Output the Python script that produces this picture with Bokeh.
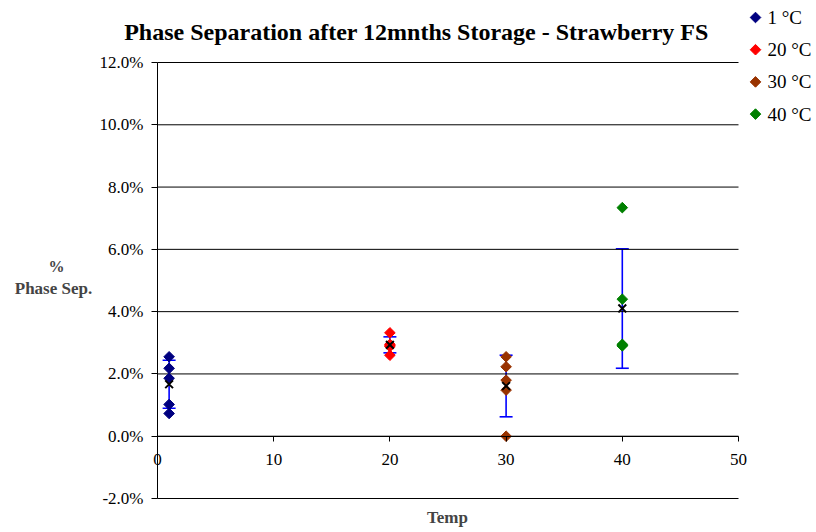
import numpy as np
from bokeh.plotting import figure
from bokeh.models import (ColumnDataSource, Range1d, LinearAxis, FixedTicker,
                          PrintfTickFormatter, Whisker, TeeHead, Label)
from bokeh.embed import file_html
from bokeh.resources import INLINE

# ---- data ----
series_names = ["1 °C", "20 °C", "30 °C", "40 °C"]
series_temp = [1, 20, 30, 40]
sep_1C = [2.55, 2.18, 1.86, 1.02, 0.73]
sep_20C = [3.32, 2.95, 2.92, 2.88, 2.60]
sep_30C = [2.55, 2.23, 1.80, 1.48, 0.00]
sep_40C = [7.34, 4.40, 2.95, 2.92, 2.90]
series_values = [sep_1C, sep_20C, sep_30C, sep_40C]
series_colors = ["#000080", "#FF0000", "#993300", "#008000"]
y_ticks = [-2, 0, 2, 4, 6, 8, 10, 12]
x_ticks = [0, 10, 20, 30, 40, 50]

SERIF = "Liberation Serif"
W, H = 816, 532
# plot area in pixels (left, right, top, bottom)
PL, PR, PT, PB = 157, 738, 62, 498
XMIN, XMAX = x_ticks[0], x_ticks[-1]
YMIN, YMAX = y_ticks[0], y_ticks[-1]
kx = (PR - PL) / (XMAX - XMIN)
ky = (PB - PT) / (YMAX - YMIN)
x_range = Range1d(XMIN - PL / kx, XMAX + (W - PR) / kx)
y_range = Range1d(YMIN - (H - PB) / ky, YMAX + PT / ky)


def dx(px):
    return XMIN + (px - PL) / kx


def dy(py):
    return YMAX - (py - PT) / ky


p = figure(width=W, height=H, output_backend="svg", toolbar_location=None,
           x_range=x_range, y_range=y_range,
           x_axis_location=None, y_axis_location=None,
           min_border=0)
p.outline_line_color = None
p.background_fill_color = "white"
p.border_fill_color = "white"
p.xgrid.visible = False
p.ygrid.visible = False

# horizontal gridlines over the plot area
p.segment(x0=[XMIN] * len(y_ticks), x1=[XMAX] * len(y_ticks), y0=y_ticks, y1=y_ticks,
          line_color="black", line_width=1)

# y axis at x=0
yax = LinearAxis(ticker=FixedTicker(ticks=y_ticks), formatter=PrintfTickFormatter(format="%.1f%%"),
                 fixed_location=XMIN, bounds=(YMIN, YMAX))
yax.axis_line_color = "black"
yax.major_tick_line_color = "black"
yax.major_tick_out = 6
yax.major_tick_in = 0
yax.minor_tick_line_color = None
yax.major_label_standoff = 8
yax.major_label_text_font = SERIF
yax.major_label_text_font_size = "17px"
yax.major_label_text_color = "black"
p.add_layout(yax, "left")

# x axis crossing at y=0
xax = LinearAxis(ticker=FixedTicker(ticks=x_ticks), fixed_location=0, bounds=(XMIN, XMAX))
xax.axis_line_color = "black"
xax.major_tick_line_color = "black"
xax.major_tick_out = 5
xax.major_tick_in = 0
xax.minor_tick_line_color = None
xax.major_label_standoff = 13
xax.major_label_text_font = SERIF
xax.major_label_text_font_size = "17px"
xax.major_label_text_color = "black"
p.add_layout(xax, "below")

# error bars (mean +/- SD) and means
means = [float(np.mean(v)) for v in series_values]
sds = [float(np.std(v, ddof=1)) for v in series_values]
err_src = ColumnDataSource(dict(x=series_temp,
                                upper=[m + s for m, s in zip(means, sds)],
                                lower=[m - s for m, s in zip(means, sds)],
                                mean=means))
wh = Whisker(source=err_src, base="x", upper="upper", lower="lower", dimension="height",
             line_color="#0000FF", line_width=1.6,
             upper_head=TeeHead(size=13, line_color="#0000FF", line_width=1.6),
             lower_head=TeeHead(size=13, line_color="#0000FF", line_width=1.6))
p.add_layout(wh)

for name, t, vals, col in zip(series_names, series_temp, series_values, series_colors):
    src = ColumnDataSource(dict(x=[t] * len(vals), y=vals))
    p.scatter("x", "y", source=src, marker="square", angle=np.pi / 4, size=7.5,
              fill_color=col, line_color=col, name=name)

p.scatter("x", "mean", source=err_src, marker="x", size=11, line_color="black", line_width=2)

# legend (outside the plot area, top right)
LEG_X, LEG_Y0, LEG_STEP = 755, 17, 32.2
leg_src = ColumnDataSource(dict(
    x=[dx(LEG_X)] * len(series_names),
    y=[dy(LEG_Y0 + LEG_STEP * i) for i in range(len(series_names))],
    color=series_colors))
p.scatter("x", "y", source=leg_src, marker="square", angle=np.pi / 4, size=7.5,
          fill_color="color", line_color="color")
for i, name in enumerate(series_names):
    p.add_layout(Label(x=dx(LEG_X + 12), y=dy(LEG_Y0 + LEG_STEP * i), text=name,
                       text_font=SERIF, text_font_size="19px", text_color="black",
                       text_align="left", text_baseline="middle"))

# titles / axis labels
p.add_layout(Label(x=dx(416), y=dy(31), text="Phase Separation after 12mnths Storage - Strawberry FS",
                   text_font=SERIF, text_font_size="24px", text_font_style="bold",
                   text_align="center", text_baseline="middle", text_color="black"))
p.add_layout(Label(x=dx(56), y=dy(266), text="%", text_font=SERIF, text_font_size="16px",
                   text_font_style="bold", text_align="center", text_baseline="middle"))
p.add_layout(Label(x=dx(53), y=dy(288), text="Phase Sep.", text_font=SERIF, text_font_size="17px",
                   text_font_style="bold", text_align="center", text_baseline="middle"))
p.add_layout(Label(x=dx(447), y=dy(517), text="Temp", text_font=SERIF, text_font_size="17px",
                   text_font_style="bold", text_align="center", text_baseline="middle"))

open("out.html", "w").write(file_html(p, INLINE))
